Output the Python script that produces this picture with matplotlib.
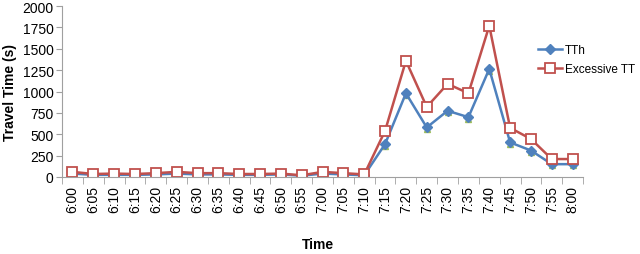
import numpy as np
import matplotlib
matplotlib.use("Agg")
import matplotlib.pyplot as plt

plt.rcParams['font.family'] = ['Liberation Sans', 'DejaVu Sans']

times = ["6:00", "6:05", "6:10", "6:15", "6:20", "6:25", "6:30", "6:35", "6:40",
         "6:45", "6:50", "6:55", "7:00", "7:05", "7:10", "7:15", "7:20", "7:25",
         "7:30", "7:35", "7:40", "7:45", "7:50", "7:55", "8:00"]

tth = [40, 25, 25, 25, 30, 40, 30, 30, 25, 25, 30, 15, 40, 30, 20,
       385, 980, 580, 775, 700, 1265, 405, 310, 150, 150]

excessive_tt = [60, 35, 40, 35, 45, 60, 45, 45, 35, 35, 40, 20, 60, 45, 30,
                540, 1360, 820, 1090, 980, 1770, 575, 445, 210, 210]

# third series hidden under TTh (no legend entry)
tt_low = [25, 15, 15, 15, 20, 25, 20, 20, 15, 15, 20, 10, 25, 20, 10,
          365, 955, 560, 755, 680, 1240, 390, 290, 135, 135]

fig = plt.figure(figsize=(6.4, 2.55), dpi=100)
ax = fig.add_axes([0.097, 0.302, 0.814, 0.670])

x = np.arange(len(times))
ax.plot(x, tt_low, color='#9BBB59', marker='^', markersize=4.5, linewidth=0,
        label='_nolegend_')
ax.plot(x, tth, color='#4F81BD', marker='D', markersize=5, linewidth=1.8,
        label='TTh')
ax.plot(x, excessive_tt, color='#C0504D', marker='s', markersize=7,
        markerfacecolor='white', markeredgewidth=1.3, linewidth=1.8,
        label='Excessive TT')

ax.set_xlim(-0.5, len(times) - 0.5)
ax.set_ylim(0, 2000)
ax.set_yticks(np.arange(0, 2001, 250))
ax.tick_params(axis='y', labelsize=10, length=4, color='#A0A0A0', pad=2)

ax.set_xticks(x)
ax.set_xticklabels(times, rotation=90, fontsize=10)
ax.set_xticks(np.arange(-0.5, len(times), 1), minor=True)
ax.tick_params(axis='x', which='major', length=0, pad=6)
ax.tick_params(axis='x', which='minor', length=5, color='#A0A0A0')

for side in ['top', 'right']:
    ax.spines[side].set_visible(False)
for side in ['left', 'bottom']:
    ax.spines[side].set_color('#A0A0A0')

ax.set_ylabel('Travel Time (s)', fontsize=10, fontweight='bold', labelpad=4)
fig.text(0.497, 0.025, 'Time', fontsize=10, fontweight='bold', ha='center')

ax.legend(loc='upper left', bbox_to_anchor=(0.826, 0.86), frameon=False,
          fontsize=8.5, handlelength=2.0, handletextpad=0.3, labelspacing=0.6,
          borderpad=0.3, bbox_transform=fig.transFigure)

fig.savefig('out.png', dpi=100)
